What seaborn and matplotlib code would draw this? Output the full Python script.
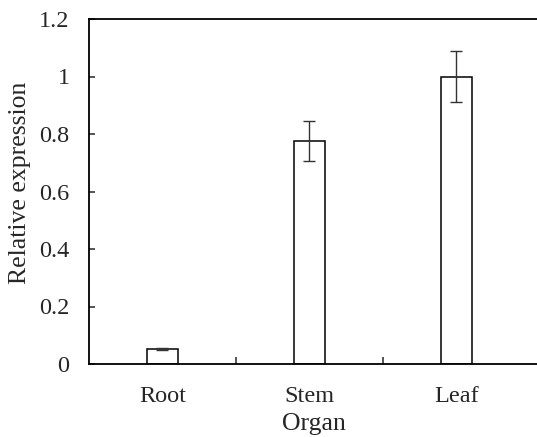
import matplotlib
matplotlib.use("Agg")
import matplotlib.pyplot as plt
import pandas as pd
import seaborn as sns

organs = ["Root", "Stem", "Leaf"]
expression = [0.051, 0.776, 1.0]
errors = [0.003, 0.07, 0.09]

sns.set_style("ticks")
plt.rcParams["font.family"] = ["Liberation Serif", "DejaVu Serif"]

data = pd.DataFrame({"Organ": organs, "Relative expression": expression})

fig = plt.figure(figsize=(5.37, 4.37), dpi=100)
ax = fig.add_axes([89 / 537, 73 / 437, 449 / 537, 345 / 437])

sns.barplot(data=data, x="Organ", y="Relative expression", order=organs,
            color="white", edgecolor="black", linewidth=1.1, width=0.21,
            errorbar=None, ax=ax)
ax.errorbar(range(len(organs)), expression, yerr=errors, fmt="none",
            ecolor="#333333", elinewidth=1.0, capsize=4, capthick=1.0)

ax.set_xlim(-0.5, 2.555)
ax.set_ylim(0, 1.2)
ax.set_yticks([0, 0.2, 0.4, 0.6, 0.8, 1.0, 1.2])
ax.set_yticklabels(["0", "0.2", "0.4", "0.6", "0.8", "1", "1.2"])
ax.set_xticks([0.5, 1.5], minor=True)
ax.tick_params(axis="x", which="major", length=0, labelsize=17.5, pad=16)
ax.tick_params(axis="x", which="minor", direction="in", length=5, width=1.1)
ax.tick_params(axis="y", direction="in", length=4, width=1.1, labelsize=17.5, pad=14)

ax.set_xlabel("Organ", fontsize=18.5, labelpad=4)
ax.set_ylabel("Relative expression", fontsize=18.5)
ax.yaxis.set_label_coords(-0.13, 0.525)

for side in ["left", "bottom", "top"]:
    ax.spines[side].set_linewidth(1.3)
    ax.spines[side].set_color("black")
ax.spines["right"].set_visible(False)

fig.savefig("out.png", dpi=100)
